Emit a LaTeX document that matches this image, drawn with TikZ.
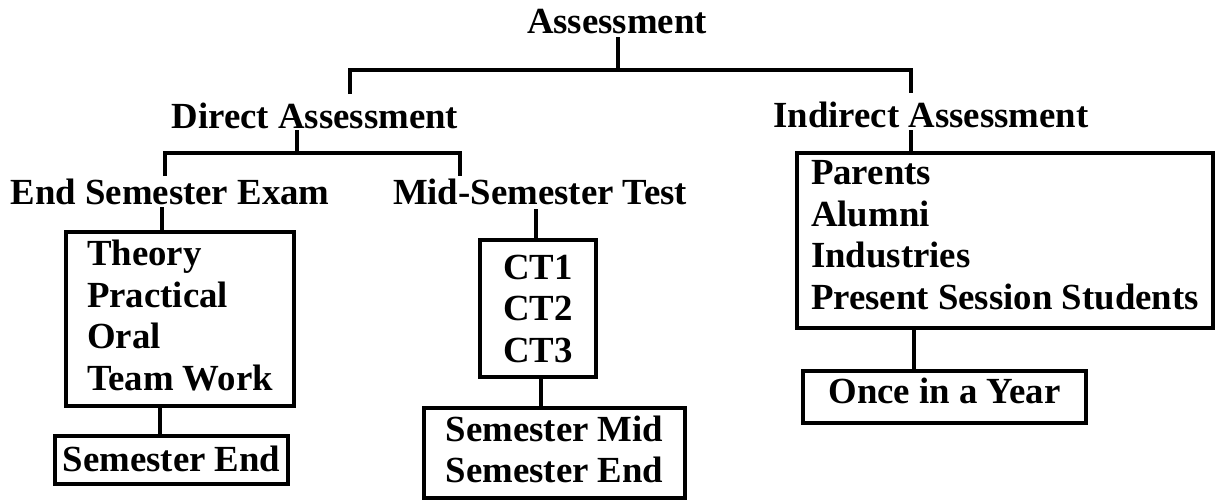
\documentclass[tikz,border=0pt]{standalone}
\usepackage{fontspec}
\setmainfont{Liberation Serif}
\begin{document}
\begin{tikzpicture}[x=0.5pt,y=-0.5pt,
  txt/.style={font=\fontsize{18.4}{20.75}\selectfont\bfseries},
  lbl/.style={txt, inner sep=0pt, anchor=base},
  box/.style={txt, draw, line width=2pt, inner sep=0pt},
  conn/.style={line width=2pt}]
\useasboundingbox[fill=white] (0,0) rectangle (1218,500);
% labels
\node[lbl] (assess) at (617,33) {Assessment};
\node[lbl] (direct) at (315,128) {Direct Assessment};
\node[lbl] (indirect) at (931,127) {Indirect Assessment};
\node[lbl] (ese) at (170,204) {End Semester Exam};
\node[lbl] (mst) at (540,204) {Mid-Semester Test};
% boxes
\node[box, align=left, text depth=4pt, minimum width=114pt, minimum height=87pt] (esebox) at (180,319)
  {Theory\\Practical\\Oral\\Team Work};
\node[box, text depth=1.5pt, minimum width=116.5pt, minimum height=24pt] (eseend) at (171.5,460) {Semester End};
\node[box, align=center, minimum width=58pt, minimum height=68.5pt] (ctbox) at (538,308.5)
  {CT1\\CT2\\CT3};
\node[box, align=left, text depth=4pt, minimum width=130.5pt, minimum height=45pt] (mstend) at (554.5,453)
  {Semester Mid\\Semester End};
\node[box, align=left, text depth=5pt, minimum width=208pt, minimum height=87.5pt] (indbox) at (1005,240)
  {Parents\\Alumni\\Industries\\Present Session Students};
\node[box, text depth=6pt, minimum width=141.5pt, minimum height=26pt] (once) at (944.5,397) {Once in a Year};
% junction coordinates
\coordinate (j1) at (618,70);
\coordinate (dtop) at (350,94);
\coordinate (itop) at (911,93);
\coordinate (j2) at (297,153);
\coordinate (etop) at (165,176);
\coordinate (mtop) at (460,176);
% connectors
\draw[conn] (618,37) -- (j1);
\draw[conn] (dtop) |- (j1) -| (itop);
\draw[conn] (297,130) -- (j2);
\draw[conn] (etop) |- (j2) -| (mtop);
\draw[conn] (162,207) -- (esebox.north -| 162,0);
\draw[conn] (536,209) -- (ctbox.north -| 536,0);
\draw[conn] (esebox.south -| 160,0) -- (eseend.north -| 160,0);
\draw[conn] (ctbox.south -| 541,0) -- (mstend.north -| 541,0);
\draw[conn] (911,130) -- (indbox.north -| 911,0);
\draw[conn] (indbox.south -| 914,0) -- (once.north -| 914,0);
\end{tikzpicture}
\end{document}
